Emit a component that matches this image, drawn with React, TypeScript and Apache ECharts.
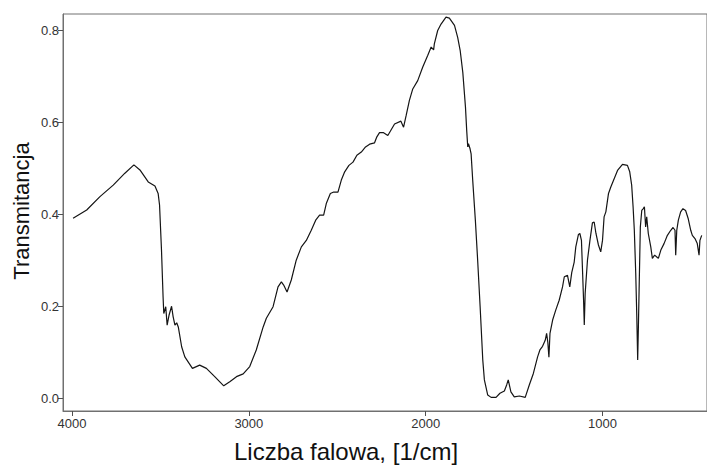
import React, { useEffect, useRef } from "react";
import * as echarts from "echarts";

const wavenumbers = [
  3994, 3917, 3842, 3767, 3701, 3650, 3616, 3569, 3531, 3513, 3505, 3494, 3485, 3481, 3470, 3462, 3451, 3437, 3428, 3418,
  3408, 3399, 3380, 3362, 3319, 3278, 3240, 3193, 3142, 3108, 3070, 3032, 2995, 2958, 2919, 2901, 2863, 2835, 2816, 2803,
  2784, 2760, 2732, 2703, 2675, 2647, 2622, 2600, 2577, 2562, 2539, 2520, 2496, 2477, 2458, 2434, 2411, 2389, 2364, 2340,
  2317, 2289, 2276, 2261, 2238, 2214, 2176, 2140, 2125, 2110, 2092, 2073, 2045, 2017, 1988, 1969, 1955, 1951, 1932, 1913,
  1885, 1866, 1837, 1819, 1805, 1790, 1775, 1768, 1762, 1758, 1749, 1743, 1734, 1719, 1706, 1692, 1677, 1668, 1649, 1630,
  1602, 1580, 1555, 1542, 1533, 1518, 1499, 1470, 1437, 1414, 1391, 1367, 1354, 1339, 1324, 1316, 1309, 1303, 1297, 1282,
  1264, 1245, 1226, 1216, 1198, 1185, 1174, 1160, 1151, 1136, 1128, 1119, 1113, 1107, 1103, 1098, 1085, 1071, 1057, 1047,
  1037, 1023, 1010, 1000, 991, 981, 966, 953, 934, 915, 887, 859, 846, 835, 827, 820, 812, 806, 801, 797,
  793, 786, 778, 769, 763, 756, 750, 741, 727, 718, 705, 693, 684, 670, 652, 633, 614, 601, 590, 586,
  580, 571, 558, 545, 530, 515, 501, 492, 477, 464, 454, 449, 439,
];

const transmittance = [
  0.391, 0.409, 0.438, 0.463, 0.489, 0.507, 0.496, 0.470, 0.461, 0.445, 0.420, 0.322, 0.220, 0.184, 0.199, 0.159, 0.181, 0.200, 0.177, 0.159,
  0.164, 0.155, 0.112, 0.090, 0.065, 0.072, 0.065, 0.047, 0.027, 0.036, 0.047, 0.053, 0.069, 0.105, 0.155, 0.174, 0.199, 0.242, 0.253, 0.246,
  0.231, 0.257, 0.300, 0.329, 0.343, 0.365, 0.387, 0.398, 0.398, 0.423, 0.445, 0.448, 0.448, 0.474, 0.492, 0.506, 0.513, 0.528, 0.535, 0.546,
  0.552, 0.555, 0.568, 0.577, 0.577, 0.571, 0.596, 0.602, 0.589, 0.615, 0.647, 0.672, 0.690, 0.719, 0.745, 0.763, 0.757, 0.770, 0.799, 0.813,
  0.828, 0.826, 0.810, 0.784, 0.756, 0.708, 0.633, 0.582, 0.546, 0.553, 0.542, 0.531, 0.474, 0.387, 0.300, 0.199, 0.083, 0.040, 0.007, 0.002,
  0.002, 0.011, 0.016, 0.029, 0.040, 0.014, 0.003, 0.005, 0.002, 0.029, 0.054, 0.090, 0.105, 0.113, 0.126, 0.141, 0.121, 0.089, 0.141, 0.170,
  0.192, 0.213, 0.242, 0.264, 0.267, 0.242, 0.273, 0.296, 0.329, 0.356, 0.358, 0.343, 0.278, 0.213, 0.159, 0.228, 0.300, 0.343, 0.381, 0.383,
  0.358, 0.333, 0.318, 0.343, 0.394, 0.405, 0.445, 0.459, 0.477, 0.495, 0.508, 0.506, 0.492, 0.463, 0.416, 0.365, 0.271, 0.177, 0.083, 0.155,
  0.235, 0.372, 0.408, 0.412, 0.416, 0.372, 0.394, 0.358, 0.329, 0.304, 0.311, 0.307, 0.304, 0.322, 0.336, 0.354, 0.365, 0.371, 0.365, 0.311,
  0.365, 0.387, 0.405, 0.412, 0.408, 0.390, 0.365, 0.354, 0.347, 0.336, 0.311, 0.343, 0.354,
];

const xTicks = [4000, 3000, 2000, 1000];
const yTicks = [0, 0.2, 0.4, 0.6, 0.8];
const xTitle = "Liczba falowa, [1/cm]";
const yTitle = "Transmitancja";

const tickFont = "'Liberation Sans', Arial, sans-serif";
const titleFont = "'Liberation Sans', Arial, sans-serif";

export default function App() {
  const ref = useRef<HTMLDivElement>(null);
  useEffect(() => {
    if (!ref.current) return;
    const chart = echarts.init(ref.current, undefined, { renderer: "svg" });
    const data = wavenumbers.map((w, i) => [w, transmittance[i]]);
    chart.setOption({
      animation: false,
      backgroundColor: "#ffffff",
      grid: {
        left: 63,
        top: 14,
        right: -1,
        bottom: 55,
        show: true,
        borderColor: "#707070",
        borderWidth: 1,
      },
      xAxis: {
        type: "value",
        min: 409,
        max: 4051,
        inverse: true,
        splitLine: { show: false },
        axisLine: { show: true, onZero: false, lineStyle: { color: "#707070", width: 1 } },
        axisTick: { show: true, customValues: xTicks, length: 5, lineStyle: { color: "#505050" } },
        axisLabel: {
          customValues: xTicks,
          color: "#333333",
          fontSize: 13,
          fontFamily: tickFont,
          margin: 6,
          formatter: (v: number) => String(Math.round(v)),
        },
      },
      yAxis: {
        type: "value",
        min: -0.0276,
        max: 0.8348,
        splitLine: { show: false },
        axisLine: { show: true, onZero: false, lineStyle: { color: "#707070", width: 1 } },
        axisTick: { show: true, customValues: yTicks, length: 5, lineStyle: { color: "#505050" } },
        axisLabel: {
          customValues: yTicks,
          color: "#333333",
          fontSize: 13,
          fontFamily: tickFont,
          margin: 4,
          formatter: (v: number) => v.toFixed(1),
        },
      },
      graphic: [
        {
          type: "text",
          x: 346,
          y: 451,
          style: {
            text: xTitle,
            font: "24px " + titleFont,
            fill: "#111111",
            textAlign: "center",
            textVerticalAlign: "middle",
          },
        },
        {
          type: "text",
          x: 21,
          y: 211,
          rotation: Math.PI / 2,
          style: {
            text: yTitle,
            font: "22px " + titleFont,
            fill: "#111111",
            textAlign: "center",
            textVerticalAlign: "middle",
          },
        },
      ],
      series: [
        {
          type: "line",
          data,
          showSymbol: false,
          symbol: "none",
          lineStyle: { color: "#151515", width: 1.2 },
        },
      ],
    });
    return () => chart.dispose();
  }, []);
  return (
    <div
      ref={ref}
      style={{ position: "fixed", left: 0, top: 0, width: 707, height: 466, background: "#fff" }}
    />
  );
}
